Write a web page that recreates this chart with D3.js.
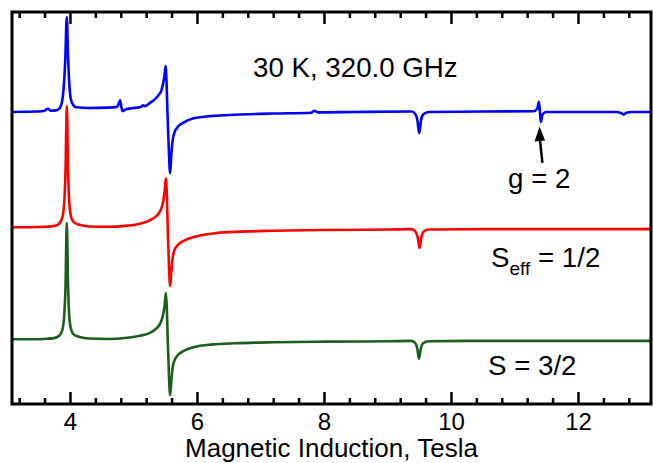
<!DOCTYPE html>
<html>
<head>
<meta charset="utf-8">
<script src="https://cdn.jsdelivr.net/npm/d3@7"></script>
<style>
body { margin: 0; background: #fff; }
svg { display: block; font-family: "Liberation Sans", Arial, sans-serif; }
</style>
</head>
<body>
<svg width="653" height="463"></svg>
<script>
// field (T), intensity relative to each trace's own baseline (a.u.)
var blueTrace = [
	[3.09, 0], [3.5, 0.1], [3.6, 0.3], [3.65, 0.8], [3.7, 0.3], [3.78, 0.4], [3.84, 1.0],
	[3.875, 2.6], [3.9, 6], [3.925, 13], [3.95, 24.2], [3.97, 14], [3.99, 7], [4.015, 3.2],
	[4.05, 1.8], [4.1, 1.2], [4.3, 1.0], [4.6, 1.1], [4.74, 1.3], [4.77, 2.2], [4.79, 3.0],
	[4.81, 1.2], [4.83, 0.2], [4.87, 0.6], [4.95, 0.9], [5.05, 1.1], [5.12, 1.3], [5.15, 1.7],
	[5.18, 1.5], [5.25, 2.2], [5.32, 3.0], [5.39, 4.2], [5.44, 5.5], [5.47, 7.5], [5.49, 9.5],
	[5.505, 11.7], [5.52, 8], [5.535, 0], [5.555, -9], [5.577, -15.6], [5.595, -11],
	[5.615, -7.5], [5.64, -5.5], [5.7, -3.8], [5.8, -2.6], [5.95, -1.6], [6.25, -1.0],
	[6.6, -0.7], [7.2, -0.4], [7.8, -0.2], [7.85, 0.3], [7.9, -0.1], [8.5, 0], [9.38, 0.1],
	[9.44, -0.6], [9.47, -2], [9.5, -5.4], [9.53, -2], [9.565, -0.6], [9.65, 0], [10.5, 0.1],
	[11.3, 0.2], [11.36, 0.9], [11.385, 2.6], [11.4, 0.2], [11.415, -2.6], [11.44, -0.7],
	[11.5, 0], [12.6, 0], [12.68, -0.3], [12.72, -0.7], [12.76, -0.2], [12.85, 0], [13.15, 0]
];

var redTrace = [
	[3.09, 0.5], [3.4, 0.5], [3.6, 0.6], [3.75, 0.8], [3.83, 1.4], [3.88, 3], [3.91, 7],
	[3.93, 15], [3.95, 31.4], [3.97, 15], [3.99, 6.5], [4.02, 3], [4.06, 1.8], [4.15, 1.1],
	[4.3, 0.7], [4.6, 0.6], [4.9, 0.9], [5.1, 1.4], [5.25, 2.2], [5.35, 3.2], [5.42, 4.6],
	[5.46, 6.5], [5.49, 9.5], [5.51, 13], [5.525, 9], [5.54, 0], [5.558, -9], [5.577, -14.5],
	[5.595, -11], [5.615, -7.5], [5.64, -5.6], [5.7, -4], [5.8, -2.9], [5.95, -2.0],
	[6.25, -1.1], [6.6, -0.7], [7.2, -0.4], [8.0, -0.2], [9.0, -0.1], [9.38, 0], [9.44, -0.6],
	[9.475, -2], [9.505, -4.8], [9.535, -2], [9.57, -0.6], [9.65, -0.1], [10.5, 0], [13.15, 0]
];

var greenTrace = [
	[3.09, 0.4], [3.4, 0.4], [3.6, 0.5], [3.75, 0.7], [3.83, 1.3], [3.88, 2.8], [3.91, 6.6],
	[3.93, 14], [3.95, 30.1], [3.97, 14], [3.99, 6], [4.02, 2.8], [4.06, 1.6], [4.15, 1.0],
	[4.3, 0.6], [4.6, 0.5], [4.9, 0.8], [5.1, 1.3], [5.25, 2.0], [5.35, 3.0], [5.42, 4.4],
	[5.46, 6.2], [5.49, 9.0], [5.51, 12.2], [5.525, 8.5], [5.54, 0], [5.558, -8.5],
	[5.577, -13.8], [5.595, -10.5], [5.615, -7], [5.64, -5.2], [5.7, -3.6], [5.8, -2.5],
	[5.95, -1.6], [6.25, -0.9], [6.6, -0.6], [7.2, -0.35], [8.0, -0.2], [9.0, -0.1],
	[9.38, 0], [9.44, -0.6], [9.47, -2], [9.495, -4.6], [9.525, -2], [9.56, -0.6],
	[9.65, -0.1], [10.5, 0], [13.15, 0]
];

var traceNames = ['blue', 'red', 'green'];
var traceOffsets = [74.5, 44.6, 16.1];
var traceColors = ['#0000ff', '#ff0000', '#1a5e1a'];

var majorTicks = [4, 6, 8, 10, 12];
var xLabel = 'Magnetic Induction, Tesla';

var svg = d3.select('svg');
var padLeft = 12, padRight = 651, padTop = 12, padBottom = 404;

var xScale = d3.scaleLinear().domain([3.087, 13.15]).range([padLeft, padRight]);
var yScale = d3.scaleLinear().domain([0, 100]).range([padBottom, padTop]);

var minorTicks = d3.range(3.2, 13.1, 0.4).filter(function (v) {
	return Math.abs(v / 2 - Math.round(v / 2)) > 0.01;
});

var traces = [blueTrace, redTrace, greenTrace];

var line = d3.line()
	.x(function (d) { return xScale(d[0]); })
	.y(function (d) { return yScale(d[1]); })
	.curve(d3.curveMonotoneX);

svg.append('defs').append('clipPath').attr('id', 'plot')
	.append('rect')
	.attr('x', padLeft).attr('y', padTop)
	.attr('width', padRight - padLeft).attr('height', padBottom - padTop);

svg.append('g')
	.attr('clip-path', 'url(#plot)')
	.selectAll('path.trace')
	.data(traces)
	.enter()
	.append('path')
	.attr('class', function (d, i) { return 'trace ' + traceNames[i]; })
	.attr('d', function (d, i) {
		return line(d.map(function (p) { return [p[0], p[1] + traceOffsets[i]]; }));
	})
	.attr('fill', 'none')
	.attr('stroke', function (d, i) { return traceColors[i]; })
	.attr('stroke-width', 2.6)
	.attr('stroke-linejoin', 'round');

// axes: ticks on bottom and top, pointing inward
function styleAxis(g) {
	g.select('.domain').remove();
	g.selectAll('.tick line').attr('stroke', '#000').attr('stroke-width', 2.5);
}

svg.append('g')
	.attr('transform', 'translate(0,' + padBottom + ')')
	.call(d3.axisBottom(xScale).tickValues(minorTicks).tickSize(-6).tickFormat(''))
	.call(styleAxis);

svg.append('g')
	.attr('transform', 'translate(0,' + padBottom + ')')
	.call(d3.axisBottom(xScale).tickValues(majorTicks).tickSize(-12).tickPadding(9).tickFormat(d3.format('d')))
	.call(styleAxis)
	.selectAll('text')
	.attr('font-size', 24)
	.attr('font-family', '"Liberation Sans", Arial, sans-serif')
	.attr('fill', '#000');

svg.append('g')
	.attr('transform', 'translate(0,' + padTop + ')')
	.call(d3.axisTop(xScale).tickValues(minorTicks).tickSize(-6).tickFormat(''))
	.call(styleAxis);

svg.append('g')
	.attr('transform', 'translate(0,' + padTop + ')')
	.call(d3.axisTop(xScale).tickValues(majorTicks).tickSize(-12).tickFormat(''))
	.call(styleAxis);

svg.append('rect')
	.attr('x', padLeft).attr('y', padTop)
	.attr('width', padRight - padLeft).attr('height', padBottom - padTop)
	.attr('fill', 'none')
	.attr('stroke', '#000')
	.attr('stroke-width', 3);

svg.append('text')
	.attr('x', (padLeft + padRight) / 2)
	.attr('y', 457)
	.attr('text-anchor', 'middle')
	.attr('font-size', 26)
	.text(xLabel);

// annotations
svg.append('text')
	.attr('x', 253).attr('y', 77)
	.attr('font-size', 27.7)
	.text('30 K, 320.0 GHz');

svg.append('text')
	.attr('x', xScale(11.39)).attr('y', 188)
	.attr('text-anchor', 'middle')
	.attr('font-size', 27.7)
	.text('g = 2');

var seff = svg.append('text')
	.attr('x', 491).attr('y', 267)
	.attr('font-size', 27.7);
seff.append('tspan').text('S');
seff.append('tspan').attr('font-size', 19).attr('dy', 8).text('eff');
seff.append('tspan').attr('dy', -8).text(' = 1/2');

svg.append('text')
	.attr('x', 488).attr('y', 375)
	.attr('font-size', 27.7)
	.text('S = 3/2');

// arrow pointing at the g = 2 line
var tail = [xScale(11.44), yScale(61.5)];
var tip = [xScale(11.395), yScale(70.8)];
svg.append('line')
	.attr('x1', tail[0]).attr('y1', tail[1])
	.attr('x2', tip[0]).attr('y2', tip[1] + 10)
	.attr('stroke', '#000')
	.attr('stroke-width', 2.5);
svg.append('path')
	.attr('d', 'M' + tip[0] + ',' + tip[1] + 'L' + (tip[0] - 5) + ',' + (tip[1] + 15) +
		'L' + (tip[0] + 5.5) + ',' + (tip[1] + 14) + 'Z')
	.attr('fill', '#000');
</script>
</body>
</html>
